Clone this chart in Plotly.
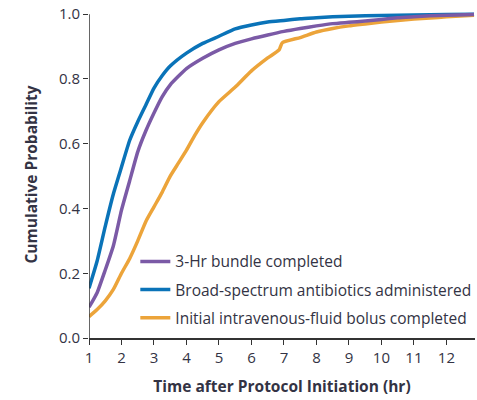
import plotly.graph_objects as go

# Data (time in hr, cumulative probability)
bundle_t = [1.0, 1.25, 1.5, 1.75, 2.0, 2.25, 2.5, 2.75, 3.0, 3.25, 3.5, 4.0, 4.5, 5.0, 5.5, 6.0,
            6.5, 7.0, 7.5, 8.0, 8.5, 9.0, 9.5, 10.0, 10.5, 11.0, 11.5, 12.0, 12.85]
bundle_p = [0.095, 0.14, 0.21, 0.285, 0.395, 0.485, 0.575, 0.64, 0.695, 0.745, 0.782, 0.832, 0.864,
            0.89, 0.91, 0.924, 0.936, 0.947, 0.956, 0.964, 0.971, 0.975, 0.979, 0.984, 0.989, 0.992,
            0.995, 0.997, 0.999]

abx_t = [1.0, 1.25, 1.5, 1.75, 2.0, 2.25, 2.5, 2.75, 3.0, 3.25, 3.5, 4.0, 4.5, 5.0, 5.5, 6.0,
         6.5, 7.0, 7.5, 8.0, 8.5, 9.0, 10.0, 11.0, 12.0, 12.85]
abx_p = [0.154, 0.238, 0.345, 0.445, 0.528, 0.61, 0.668, 0.72, 0.772, 0.81, 0.84, 0.88, 0.91,
         0.932, 0.955, 0.967, 0.976, 0.981, 0.986, 0.989, 0.992, 0.994, 0.996, 0.998, 0.999, 1.0]

fluid_t = [1.0, 1.25, 1.5, 1.75, 2.0, 2.25, 2.5, 2.75, 3.0, 3.25, 3.5, 3.75, 4.0, 4.25, 4.5, 5.0,
           5.5, 6.0, 6.5, 6.85, 6.95, 7.5, 8.0, 8.5, 9.0, 9.5, 10.0, 10.5, 11.0, 11.5, 12.0, 12.85]
fluid_p = [0.066, 0.088, 0.115, 0.15, 0.2, 0.245, 0.3, 0.36, 0.405, 0.45, 0.5, 0.54, 0.58, 0.625,
           0.665, 0.73, 0.775, 0.825, 0.865, 0.89, 0.912, 0.928, 0.945, 0.956, 0.964, 0.97, 0.976,
           0.981, 0.985, 0.988, 0.992, 0.997]

names = ["3-Hr bundle completed", "Broad-spectrum antibiotics administered",
         "Initial intravenous-fluid bolus completed"]
colors = ["#7b5aa6", "#0a73b8", "#eca43a"]

x_ticks = list(range(1, 13))
y_ticks = [0.0, 0.2, 0.4, 0.6, 0.8, 1.0]

fig = go.Figure()
# draw order: orange, blue, purple (purple on top); legend order via legendrank
series = [(fluid_t, fluid_p, 2), (abx_t, abx_p, 1), (bundle_t, bundle_p, 0)]
for t, p, i in series:
    fig.add_trace(go.Scatter(
        x=t, y=p, mode="lines", name=names[i], legendrank=i + 1,
        legendgroup=f"g{i}",
        line=dict(color=colors[i], width=3.5, shape="spline", smoothing=0.5),
    ))

font_family = "'Open Sans', sans-serif"
text_color = "#333344"

fig.update_layout(
    width=477, height=400,
    margin=dict(l=89, r=2, t=11, b=62, autoexpand=False),
    paper_bgcolor="white", plot_bgcolor="white",
    font=dict(family=font_family, size=15, color=text_color),
    showlegend=True,
    legend=dict(
        x=0.12, y=0.285, xanchor="left", yanchor="top",
        bgcolor="rgba(0,0,0,0)", tracegroupgap=5,
        font=dict(size=15.5, color=text_color),
        itemwidth=30,
    ),
    xaxis=dict(
        range=[1, 12.88], tickvals=x_ticks, ticktext=[str(v) for v in x_ticks],
        showgrid=False, zeroline=False, showline=True, linecolor="#333333", linewidth=1.5,
        ticks="outside", ticklen=5, tickcolor="#333333", tickwidth=1.2,
        tickfont=dict(size=15, color=text_color),
        title=dict(text="<b>Time after Protocol Initiation (hr)</b>", font=dict(size=15.5),
                   standoff=15),
    ),
    yaxis=dict(
        range=[0, 1.01], tickvals=y_ticks, ticktext=[f"{v:.1f}" for v in y_ticks],
        showgrid=False, zeroline=False, showline=False,
        ticks="outside", ticklen=5, tickcolor="#333333", tickwidth=1.2,
        tickfont=dict(size=15, color=text_color),
        title=dict(text="<b>Cumulative Probability</b>", font=dict(size=15.5), standoff=17),
    ),
    shapes=[dict(type="line", xref="x", yref="y", x0=1, x1=1, y0=0, y1=1.0,
                 line=dict(color="#333333", width=1.5), layer="above")],
)

fig.write_html("out.html")
